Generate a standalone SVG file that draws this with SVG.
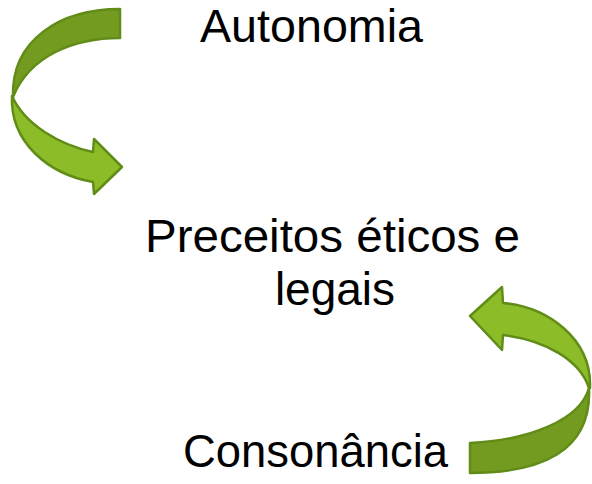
<svg xmlns="http://www.w3.org/2000/svg" width="592" height="484" viewBox="0 0 592 484">
<style>
.lbl{font-family:"Liberation Sans",Arial,sans-serif;font-size:46px;fill:#000;text-anchor:middle}
.dark{fill:#729b20;stroke:#608c17;stroke-width:2.5;stroke-linejoin:round}
.light{fill:#8cbc27;stroke:#608c17;stroke-width:2.5;stroke-linejoin:round}
</style>
<rect width="592" height="484" fill="#fff"/>
<g id="connectors">
<g id="arrow-top">
<path class="dark" d="M120,9 L120,38 C75,38 30,55 13,97 C11,40 60,9 120,9 Z"/>
<path class="light" d="M12,96 C25,125 60,145 93,152 L94,139 L122,167 L94,194 L93,182 C48,174 10,142 12,96 Z"/>
</g>
<g id="arrow-bottom">
<path class="dark" d="M470,443 C530,440 580,420 589,388 C592,452 540,473 470,473 Z"/>
<path class="light" d="M589,388 C580,360 545,340 503,335 L502,350 L470,316 L502,287 L503,303 C547,307 592,338 590,388 Z"/>
</g>
</g>
<g id="node-autonomia"><text class="lbl" x="311.5" y="42" textLength="223" lengthAdjust="spacingAndGlyphs">Autonomia</text></g>
<g id="node-preceitos">
<text class="lbl" x="332.5" y="252" textLength="375" lengthAdjust="spacingAndGlyphs">Preceitos éticos e</text>
<text class="lbl" x="335" y="305">legais</text>
</g>
<g id="node-consonancia"><text class="lbl" x="315.5" y="467" textLength="265" lengthAdjust="spacingAndGlyphs">Consonância</text></g>
</svg>
